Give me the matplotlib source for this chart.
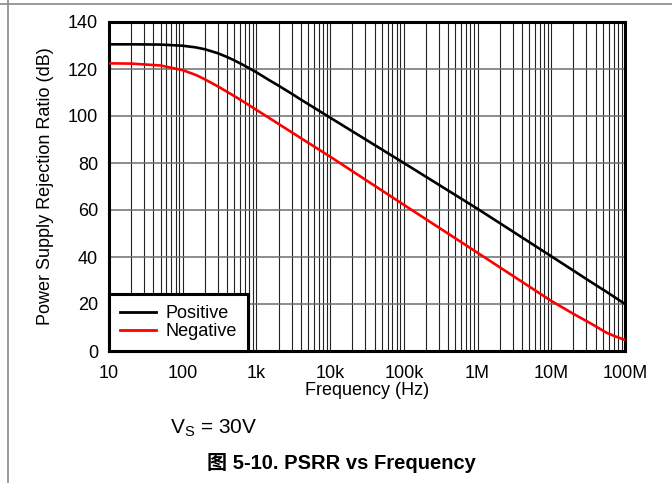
import matplotlib
matplotlib.use("Agg")
import matplotlib.pyplot as plt
from matplotlib.lines import Line2D
from matplotlib.ticker import FixedLocator, LogLocator, NullFormatter

########
# Data
########
freq_hz = [10, 20, 50, 100, 150, 200, 300, 400, 500, 700, 1e3, 1.5e3, 2e3, 3e3,
           4e3, 6e3, 1e4, 1e5, 1e6, 1e7, 2e7, 3.4e7, 5.6e7, 7e7, 1e8]
psrr_positive = [130.5, 130.5, 130.4, 129.9, 129.2, 128.4, 126.7, 125.1, 123.7,
                 121.3, 118.6, 115.2, 112.9, 109.5, 107.0, 103.6, 99.3, 80.0,
                 60.5, 40.3, 34.2, 29.5, 25.2, 23.2, 20.0]
psrr_negative = [122.4, 122.3, 121.5, 119.5, 117.5, 115.6, 112.6, 110.3, 108.5,
                 105.7, 102.6, 99.1, 96.6, 93.1, 90.6, 87.1, 82.7, 62.2,
                 41.8, 21.3, 15.8, 11.8, 7.8, 6.5, 4.7]

x_ticks = [10, 100, 1e3, 1e4, 1e5, 1e6, 1e7, 1e8]
x_tick_labels = ["10", "100", "1k", "10k", "100k", "1M", "10M", "100M"]
y_ticks = [0, 20, 40, 60, 80, 100, 120, 140]

FONT = ["Liberation Sans", "DejaVu Sans"]
plt.rcParams["font.family"] = FONT

########
# Plot
########
fig = plt.figure(figsize=(6.72, 4.83), dpi=100)
ax = fig.add_axes([109 / 672, 1 - 351 / 483, 516 / 672, 329 / 483])

ax.plot(freq_hz, psrr_positive, color="black", lw=1.9, label="Positive", zorder=3)
ax.plot(freq_hz, psrr_negative, color="#ff0000", lw=1.9, label="Negative", zorder=3)

ax.set_xscale("log")
ax.set_xlim(10, 1e8)
ax.set_ylim(0, 140)

ax.xaxis.set_major_locator(FixedLocator(x_ticks))
ax.set_xticklabels(x_tick_labels)
ax.xaxis.set_minor_locator(LogLocator(base=10, subs=range(2, 10), numticks=20))
ax.xaxis.set_minor_formatter(NullFormatter())
ax.set_yticks(y_ticks)

ax.tick_params(which="both", length=0, labelsize=13)
ax.tick_params(axis="x", pad=10)
ax.tick_params(axis="y", pad=8)

ax.grid(which="both", axis="x", color="#222222", lw=0.8)
ax.grid(which="major", axis="y", color="#6e6e6e", lw=1.1)
ax.set_axisbelow(True)

for sp in ax.spines.values():
    sp.set_linewidth(2.2)
    sp.set_color("black")

ax.set_xlabel("Frequency (Hz)", fontsize=13)
ax.set_ylabel("Power Supply Rejection Ratio (dB)", fontsize=13)
ax.xaxis.set_label_coords(0.5, (351 - 382) / 329)
ax.yaxis.set_label_coords((54 - 109) / 516, 0.5)

leg = ax.legend(loc="lower left", bbox_to_anchor=(0, 0), borderaxespad=0,
                fontsize=13, frameon=True, fancybox=False, framealpha=1,
                edgecolor="black", handlelength=2.0, handletextpad=0.55,
                labelspacing=0.05, borderpad=0.6)
leg.get_frame().set_linewidth(2.2)
for h in leg.get_lines():
    h.set_linewidth(2.0)

# condition note and caption
fig.text(214 / 672, 1 - 428 / 483, r"V$_\mathregular{S}$ = 30V", fontsize=15,
         ha="center", va="center")
fig.text(341 / 672, 1 - 463 / 483, "图 5-10. PSRR vs Frequency", fontsize=14.5,
         fontweight="bold", ha="center", va="center",
         family=["Liberation Sans", "Noto Sans CJK SC"])

# page frame lines
fig.add_artist(Line2D([0, 1], [1 - 4 / 483, 1 - 4 / 483], transform=fig.transFigure,
                      color="#8a8a8a", lw=1.2))
fig.add_artist(Line2D([7.5 / 672, 7.5 / 672], [0, 1], transform=fig.transFigure,
                      color="#8a8a8a", lw=1.2))

fig.savefig("out.png", dpi=100)
